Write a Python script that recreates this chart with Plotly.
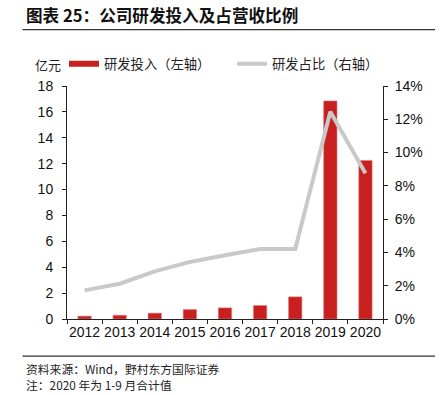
import plotly.graph_objects as go

years = ["2012", "2013", "2014", "2015", "2016", "2017", "2018", "2019", "2020"]
rd_spend = [0.22, 0.29, 0.45, 0.73, 0.86, 1.04, 1.71, 16.85, 12.25]
rd_ratio = [0.0172, 0.0212, 0.0286, 0.0343, 0.0383, 0.0421, 0.0421, 0.1245, 0.0876]
left_ticks = [0, 2, 4, 6, 8, 10, 12, 14, 16, 18]
right_ticks = [0, 0.02, 0.04, 0.06, 0.08, 0.10, 0.12, 0.14]

RED = "#C8201F"
GRAY = "#C9C9C9"
FONT = "Liberation Sans, Arial, Noto Sans CJK SC"
CJK = "Noto Sans CJK SC"

W, H = 442, 395
L, R, T, B = 67, 59, 86, 75.5
pw = W - L - R
ph = H - T - B


def px_x(px):
    return (px - L) / pw


def px_y(py):
    return (H - B - py) / ph


fig = go.Figure()
fig.add_trace(go.Bar(x=years, y=rd_spend, marker=dict(color=RED, line=dict(color="#E47A7A", width=0.6)),
                     showlegend=False, yaxis="y"))
fig.add_trace(go.Scatter(x=[None], y=[None], mode="lines", line=dict(color=RED, width=6),
                         name="研发投入（左轴）", yaxis="y"))
fig.add_trace(go.Scatter(x=years, y=rd_ratio, mode="lines", line=dict(color=GRAY, width=4),
                         name="研发占比（右轴）", yaxis="y2"))

axis_common = dict(showgrid=False, zeroline=False, showline=True, linecolor="#222", linewidth=1,
                   ticks="outside", ticklen=4, tickcolor="#222",
                   tickfont=dict(family=FONT, size=14, color="#111"))

fig.update_layout(
    width=W, height=H,
    margin=dict(l=L, r=R, t=T, b=B, autoexpand=False),
    paper_bgcolor="white", plot_bgcolor="white",
    bargap=0.62,
    xaxis=dict(**axis_common, tickson="boundaries", type="category", tickangle=0),
    yaxis=dict(**axis_common, range=[0, 18], tickvals=left_ticks, ticklabelstandoff=6),
    yaxis2=dict(**axis_common, range=[0, 0.14], tickvals=right_ticks, tickformat=".0%",
                overlaying="y", side="right", ticklabelstandoff=4),
    legend=dict(orientation="h", x=px_x(64), xanchor="left", y=px_y(64), yanchor="middle",
                font=dict(family=CJK, size=13.3, color="#222"), bgcolor="rgba(0,0,0,0)",
                entrywidth=123, entrywidthmode="pixels", itemwidth=30, tracegroupgap=0),
    showlegend=True,
)

fig.add_annotation(text="<b>图表 25：公司研发投入及占营收比例</b>", xref="paper", yref="paper",
                   x=px_x(24), y=px_y(15), xanchor="left", yanchor="middle", showarrow=False,
                   font=dict(family=CJK, size=16.6, color="#111"))
fig.add_annotation(text="亿元", xref="paper", yref="paper", x=px_x(63), y=px_y(64),
                   xanchor="right", yanchor="middle", showarrow=False,
                   font=dict(family=CJK, size=13, color="#222"))
fig.add_annotation(text="资料来源：Wind，野村东方国际证券", xref="paper", yref="paper",
                   x=px_x(24), y=px_y(369), xanchor="left", yanchor="middle", showarrow=False,
                   font=dict(family=CJK, size=11.8, color="#222"))
fig.add_annotation(text="注：2020 年为 1-9 月合计值", xref="paper", yref="paper",
                   x=px_x(24), y=px_y(385.5), xanchor="left", yanchor="middle", showarrow=False,
                   font=dict(family=CJK, size=11.8, color="#222"))

for yy in (29.5, 356.7):
    fig.add_shape(type="line", xref="paper", yref="paper", x0=px_x(22.5), x1=px_x(435),
                  y0=px_y(yy), y1=px_y(yy), line=dict(color="#333", width=1.3))

fig.write_html("out.html", config={"displayModeBar": False},
               post_script="document.body.style.margin='0px';document.body.style.overflow='hidden';")
